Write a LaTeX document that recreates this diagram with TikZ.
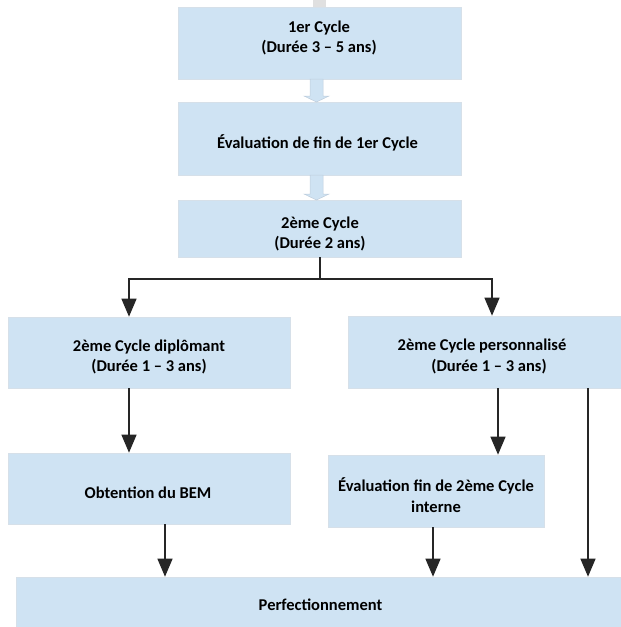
\documentclass[tikz,border=0pt]{standalone}
\usepackage{fontspec}
\setmainfont{Carlito}
\usetikzlibrary{arrows.meta}
\definecolor{boxfill}{RGB}{207,227,243}
\definecolor{boxedge}{RGB}{214,224,233}
\definecolor{blockedge}{RGB}{190,205,220}
\tikzset{
  box/.style={draw=boxedge, line width=0.6pt, fill=boxfill, inner sep=0pt},
  txt/.style={align=center, font=\bfseries\fontsize{16.5}{20.5}\selectfont, inner sep=0pt},
  arr/.style={draw=black!85, line width=1.2pt, -{Triangle[width=15pt,length=18pt]}},
  plain/.style={draw=black!85, line width=1.2pt},
  blockarrow/.style={fill=boxfill, draw=blockedge, line width=0.5pt}
}
\begin{document}
\begin{tikzpicture}[x=1pt,y=-1pt]
\useasboundingbox (0,0) rectangle (621,627);
\fill[fill=black!12] (313,0) rectangle (326,7);
% boxes
\node[box, minimum width=283pt, minimum height=72pt] (b1) at (319.5,43) {};
\node[box, minimum width=283pt, minimum height=73pt] (b2) at (319.5,138.5) {};
\node[box, minimum width=283pt, minimum height=57pt] (b3) at (319.5,228.5) {};
\node[box, minimum width=282pt, minimum height=71pt] (b4) at (149,352.5) {};
\node[box, minimum width=275pt, minimum height=72pt] (b5) at (485.5,352) {};
\node[box, minimum width=282pt, minimum height=71pt] (b6) at (149,488.5) {};
\node[box, minimum width=216pt, minimum height=72pt] (b7) at (436,491) {};
\node[box, minimum width=607pt, minimum height=52pt] (b8) at (319.5,603) {};
% texts
\node[txt] (t1) at (319,38) {1er Cycle\\(Durée 3 – 5 ans)};
\node[txt] (t2) at (317.5,143) {Évaluation de fin de 1er Cycle};
\node[txt] (t3) at (320,234) {2ème Cycle\\(Durée 2 ans)};
\node[txt] (t4) at (149,357) {2ème Cycle diplômant\\(Durée 1 – 3 ans)};
\node[txt] (t5a) at (482,346) {2ème Cycle personnalisé};
\node[txt] (t5b) at (489,367) {(Durée 1 – 3 ans)};
\node[txt] (t6) at (148,493) {Obtention du BEM};
\node[txt] (t7) at (436,495) {Évaluation fin de 2ème Cycle\\interne};
\node[txt] (t8) at (320.5,605) {Perfectionnement};
% block arrows
\draw[blockarrow] (310,79) -- (323,79) -- (323,96) -- (329,96) -- (316.5,102) -- (304,96) -- (310,96) -- cycle;
\draw[blockarrow] (310,175) -- (323,175) -- (323,194) -- (329,194) -- (316.5,200) -- (304,194) -- (310,194) -- cycle;
% connectors
\coordinate (j) at (320,279);
\draw[plain] ([xshift=0.5pt]b3.south) -- (j);
\draw[arr] (j) -| ([xshift=-20pt]b4.north);
\draw[arr] (j) -| ([xshift=6.5pt]b5.north);
\draw[arr] ([xshift=-20pt]b4.south) -- ([xshift=-20pt]b6.north);
\draw[arr] ([xshift=12.5pt]b5.south) -- ([xshift=12.5pt]b5.south |- b7.north);
\draw[arr] ([xshift=102.5pt]b5.south) -- ([xshift=102.5pt]b5.south |- b8.north);
\draw[arr] ([xshift=16pt]b6.south) -- ([xshift=16pt]b6.south |- b8.north);
\draw[arr] ([xshift=-3pt]b7.south) -- ([xshift=-3pt]b7.south |- b8.north);
\end{tikzpicture}
\end{document}
